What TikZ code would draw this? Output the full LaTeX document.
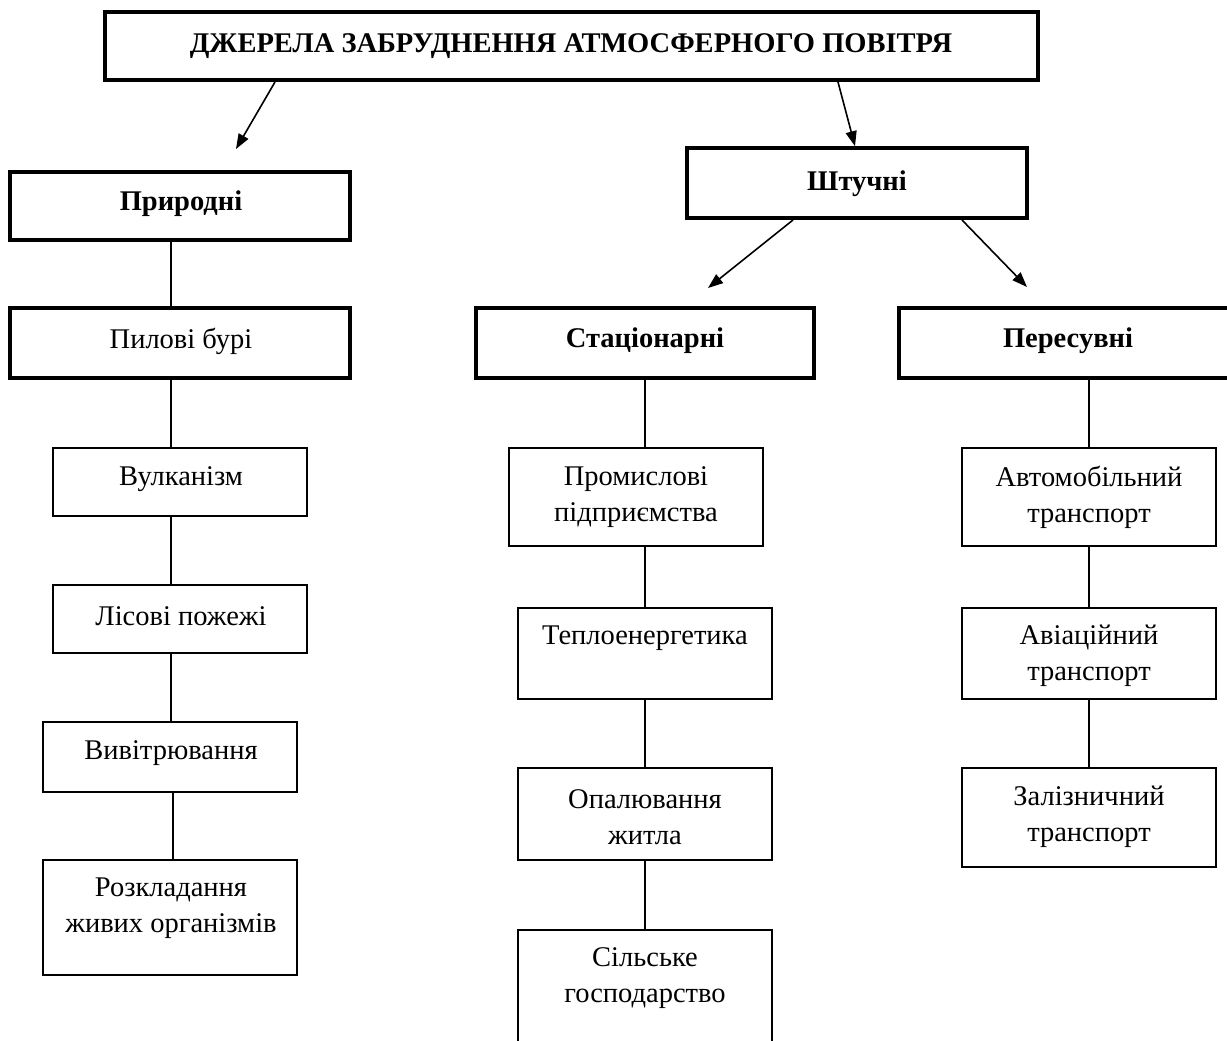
\documentclass[tikz,border=0pt]{standalone}
\usepackage{fontspec}
\setmainfont{Liberation Serif}
\usetikzlibrary{arrows.meta,calc}
\begin{document}
\begin{tikzpicture}[x=1pt,y=-1pt,
  every node/.style={font=\fontsize{28.5}{36}\selectfont},
  heavybox/.style={draw, line width=3.6pt, rectangle, inner sep=0pt},
  lightbox/.style={draw, line width=1.6pt, rectangle, inner sep=0pt},
  txt/.style={align=center, inner sep=0pt},
  htxt/.style={align=center, inner sep=0pt, font=\fontsize{28.5}{36}\selectfont\bfseries},
  link/.style={line width=1.6pt},
  arr/.style={line width=1.6pt, -{Triangle[length=15pt,width=11pt]}}
]
\useasboundingbox (0,0) rectangle (1227,1041);
\clip (0,0) rectangle (1227,1041);
\fill[white] (0,0) rectangle (1227,1041);

% boxes
\node[heavybox, minimum width=933pt, minimum height=68pt] (title) at (571.5,46) {};
\node[heavybox, minimum width=340pt, minimum height=70pt] (art) at (857,183) {};
\node[heavybox, minimum width=340pt, minimum height=68pt] (nat) at (180,206) {};
\node[heavybox, minimum width=340pt, minimum height=70pt] (dust) at (180,343) {};
\node[lightbox, minimum width=254pt, minimum height=68pt] (volc) at (180,482) {};
\node[lightbox, minimum width=254pt, minimum height=68pt] (fire) at (180,619) {};
\node[lightbox, minimum width=254pt, minimum height=70pt] (weath) at (170,757) {};
\node[lightbox, minimum width=254pt, minimum height=115pt] (decay) at (170,917.5) {};
\node[heavybox, minimum width=338pt, minimum height=70pt] (stat) at (645,343) {};
\node[lightbox, minimum width=254pt, minimum height=98pt] (ind) at (636,497) {};
\node[lightbox, minimum width=254pt, minimum height=91pt] (heat) at (645,653.5) {};
\node[lightbox, minimum width=254pt, minimum height=92pt] (home) at (645,814) {};
\node[lightbox, minimum width=254pt, minimum height=130pt] (agri) at (645,995) {};
\node[heavybox, minimum width=346pt, minimum height=70pt] (mob) at (1072,343) {};
\node[lightbox, minimum width=254pt, minimum height=98pt] (car) at (1089,497) {};
\node[lightbox, minimum width=254pt, minimum height=91pt] (air) at (1089,653.5) {};
\node[lightbox, minimum width=254pt, minimum height=99pt] (rail) at (1089,817.5) {};

% texts
\node[htxt] (ttitle) at (571,46) {ДЖЕРЕЛА ЗАБРУДНЕННЯ АТМОСФЕРНОГО ПОВІТРЯ};
\node[htxt] (tart) at (857,184) {Штучні};
\node[htxt] (tnat) at (181,204) {Природні};
\node[txt] (tdust) at (181,341) {Пилові бурі};
\node[txt] (tvolc) at (181,479) {Вулканізм};
\node[txt] (tfire) at (181,616) {Лісові пожежі};
\node[txt] (tweath) at (171,753) {Вивітрювання};
\node[txt] (tdecay) at (171,908) {Розкладання\\живих організмів};
\node[htxt] (tstat) at (645,341) {Стаціонарні};
\node[txt] (tind) at (636,497) {Промислові\\підприємства};
\node[txt] (theat) at (645,638) {Теплоенергетика};
\node[txt] (thome) at (645,817) {Опалювання\\житла};
\node[txt] (tagri) at (645,978) {Сільське\\господарство};
\node[htxt] (tmob) at (1068,341) {Пересувні};
\node[txt] (tcar) at (1089,497) {Автомобільний\\транспорт};
\node[txt] (tair) at (1089,656) {Авіаційний\\транспорт};
\node[txt] (trail) at (1089,817) {Залізничний\\транспорт};

% vertical links
\coordinate (vl) at (171,0);
\coordinate (vl2) at (173,0);
\coordinate (vm) at (645,0);
\coordinate (vr) at (1089,0);
\draw[link] (nat.south -| vl) -- (dust.north -| vl);
\draw[link] (dust.south -| vl) -- (volc.north -| vl);
\draw[link] (volc.south -| vl) -- (fire.north -| vl);
\draw[link] (fire.south -| vl) -- (weath.north -| vl);
\draw[link] (weath.south -| vl2) -- (decay.north -| vl2);
\draw[link] (stat.south -| vm) -- (ind.north -| vm);
\draw[link] (ind.south -| vm) -- (heat.north -| vm);
\draw[link] (heat.south -| vm) -- (home.north -| vm);
\draw[link] (home.south -| vm) -- (agri.north -| vm);
\draw[link] (mob.south -| vr) -- (car.north -| vr);
\draw[link] (car.south -| vr) -- (air.north -| vr);
\draw[link] (air.south -| vr) -- (rail.north -| vr);

% arrows
\coordinate (a1s) at (275,82);
\coordinate (a1e) at (236,149);
\coordinate (a2s) at (838,82);
\coordinate (a3s) at (793,220);
\coordinate (a3e) at (708,288);
\coordinate (a4s) at (962,220);
\coordinate (a4e) at (1027,287);
\draw[arr] (a1s) -- (a1e);
\draw[arr] (a2s) -- (art.north -| 855,0);
\draw[arr] (a3s) -- (a3e);
\draw[arr] (a4s) -- (a4e);
\end{tikzpicture}
\end{document}
